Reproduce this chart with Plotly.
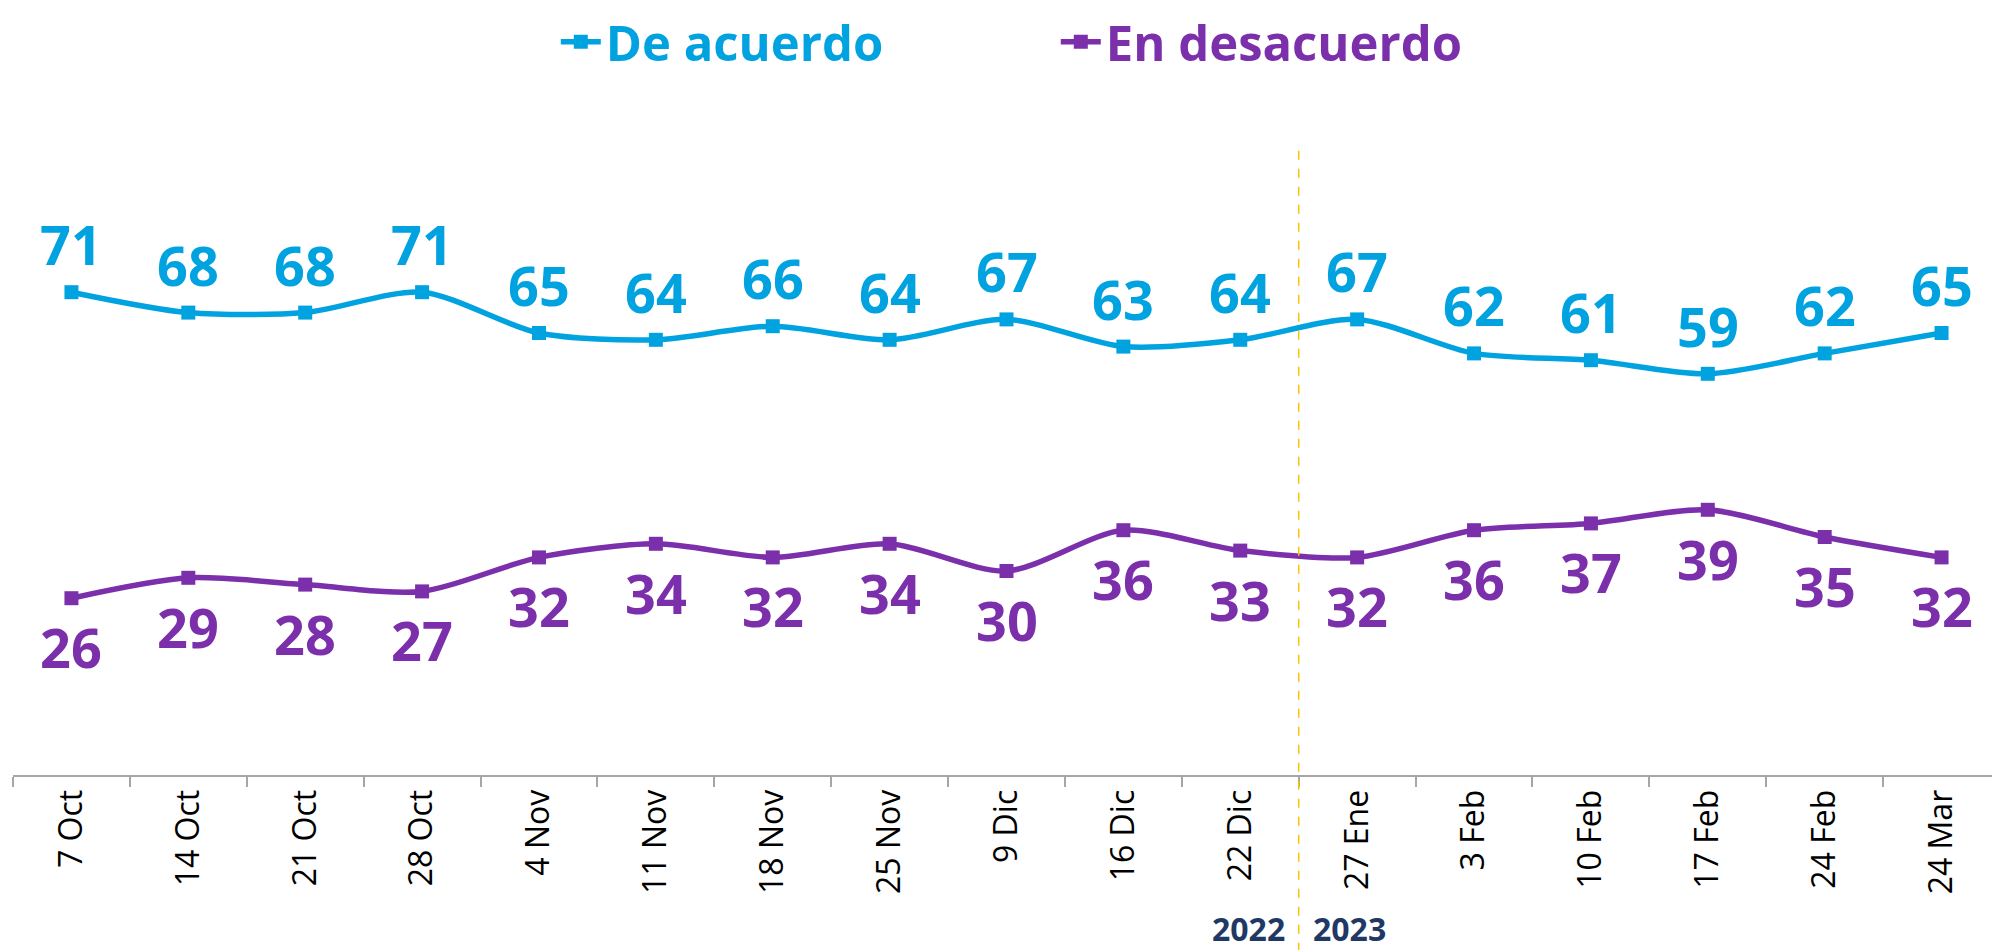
import plotly.graph_objects as go

categories = ["7 Oct", "14 Oct", "21 Oct", "28 Oct", "4 Nov", "11 Nov", "18 Nov", "25 Nov",
              "9 Dic", "16 Dic", "22 Dic", "27 Ene", "3 Feb", "10 Feb", "17 Feb", "24 Feb", "24 Mar"]
de_acuerdo = [71, 68, 68, 71, 65, 64, 66, 64, 67, 63, 64, 67, 62, 61, 59, 62, 65]
en_desacuerdo = [26, 29, 28, 27, 32, 34, 32, 34, 30, 36, 33, 32, 36, 37, 39, 35, 32]
year_labels = ["2022", "2023"]

BLUE = "#00A3E0"
PURPLE = "#7B2FAB"
NAVY = "#1F3864"
FONT_B = "Open Sans"

fig = go.Figure()
fig.add_trace(go.Scatter(
    x=categories, y=de_acuerdo, mode="lines+markers",
    name='<span style="color:%s">De acuerdo</span>' % BLUE,
    line=dict(color=BLUE, width=5.5, shape="spline", smoothing=0.8),
    marker=dict(symbol="square", size=14, color=BLUE),
))
fig.add_trace(go.Scatter(
    x=categories, y=en_desacuerdo, mode="lines+markers",
    name='<span style="color:%s">En desacuerdo</span>' % PURPLE,
    line=dict(color=PURPLE, width=5.5, shape="spline", smoothing=0.8),
    marker=dict(symbol="square", size=14, color=PURPLE),
))

# data labels
for c, v in zip(categories, de_acuerdo):
    fig.add_annotation(x=c, y=v, text="<b>%d</b>" % v, showarrow=False, yshift=48,
                       yanchor="middle", font=dict(family=FONT_B, size=54, color=BLUE))
for c, v in zip(categories, en_desacuerdo):
    fig.add_annotation(x=c, y=v, text="<b>%d</b>" % v, showarrow=False, yshift=-49,
                       yanchor="middle", font=dict(family=FONT_B, size=54, color=PURPLE))

# divider between 2022 and 2023
fig.add_shape(type="line", xref="x", yref="paper", x0=10.5, x1=10.5, y0=-0.26, y1=0.93,
              line=dict(color="#FFC000", width=1.5, dash="dash"))

fig.add_annotation(x=10.5, y=-0.226, xref="x", yref="paper", text="<b>%s</b>" % year_labels[0],
                   showarrow=False, xanchor="right", yanchor="middle", xshift=-12,
                   font=dict(family=FONT_B, size=32, color=NAVY))
fig.add_annotation(x=10.5, y=-0.226, xref="x", yref="paper", text="<b>%s</b>" % year_labels[1],
                   showarrow=False, xanchor="left", yanchor="middle", xshift=12,
                   font=dict(family=FONT_B, size=32, color=NAVY))

fig.update_layout(
    width=1992, height=942,
    margin=dict(l=5, r=0, t=87, b=175),
    plot_bgcolor="white", paper_bgcolor="white",
    showlegend=True,
    legend=dict(orientation="h", x=0.275, xref="container", xanchor="left",
                y=0.964, yref="container", yanchor="middle",
                font=dict(family=FONT_B, size=49, weight="bold"), itemwidth=40,
                entrywidth=445, bgcolor="rgba(0,0,0,0)"),
    xaxis=dict(type="category", range=[-0.5, 16.5], showgrid=False, showline=True,
               linecolor="#A6A6A6", linewidth=2, ticks="outside", tickson="boundaries",
               ticklen=10, tickcolor="#A6A6A6", tickwidth=2, tickangle=-90,
               tickfont=dict(family="Open Sans", size=32, color="black")),
    yaxis=dict(range=[0, 100], visible=False, showgrid=False, zeroline=False),
)

fig.write_html("out.html")
